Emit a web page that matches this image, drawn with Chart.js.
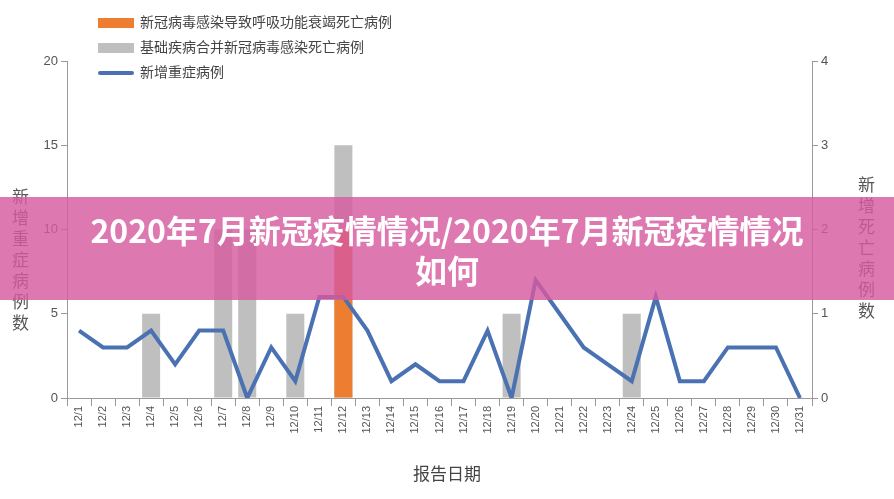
<!DOCTYPE html>
<html><head><meta charset="utf-8">
<script src="https://cdn.jsdelivr.net/npm/chart.js@4"></script>
<style>
body{margin:0;background:#fff;font-family:"Noto Sans CJK SC",sans-serif}
#wrap{position:relative;width:894px;height:499px}
.vt{position:absolute;writing-mode:vertical-rl;text-orientation:upright;font-size:17px;color:#555;letter-spacing:4px}
#leg{position:absolute;left:98px;top:9px;font-size:14px;color:#444;line-height:25px}
#leg span{display:inline-block;width:36px;margin-right:6px;vertical-align:middle}
#banner{position:absolute;left:0;top:197px;width:894px;height:103px;background:rgba(214,90,160,0.82);color:#fff;font-weight:bold;font-size:32px;text-align:center;line-height:40px;padding-top:12px;box-sizing:border-box}
</style></head><body>
<div id="wrap">
<canvas id="graf" width="894" height="499"></canvas>
<div id="leg">
<div><span style="height:10px;background:#ED7D31"></span>新冠病毒感染导致呼吸功能衰竭死亡病例</div>
<div><span style="height:10px;background:#BFBFBF"></span>基础疾病合并新冠病毒感染死亡病例</div>
<div><span style="height:4px;background:#4A72B2;border-radius:2px"></span>新增重症病例</div>
</div>
<div class="vt" style="left:8px;top:188px">新增重症病例数</div>
<div class="vt" style="left:854px;top:176px">新增死亡病例数</div>
<div style="position:absolute;left:0;width:894px;top:460px;text-align:center;font-size:17px;color:#444">报告日期</div>
<div id="banner">2020年7月新冠疫情情况/2020年7月新冠疫情情况<br>如何</div>
</div>
<script>
//日期
var dias = [];
for (var i = 1; i <= 31; i++) dias.push('12/' + i);
//死亡病例 (右轴)
var mortesResp = [0,0,0,0,0,0,0,0,0,0,0,2,0,0,0,0,0,0,0,0,0,0,0,0,0,0,0,0,0,0,0];
var mortesBase = [0,0,0,1,0,0,2,2,0,1,0,3,0,0,0,0,0,0,1,0,0,0,0,1,0,0,0,0,0,0,0];
//新增重症 (左轴)
var graves = [4,3,3,4,2,4,4,0,3,1,6,6,4,1,2,1,1,4,0,7,5,3,2,1,6,1,1,3,3,3,0];

var ctx = document.getElementById("graf");
new Chart(ctx, {
  data: {
    labels: dias,
    datasets: [
      { type: 'line', data: graves, yAxisID: 'y', borderColor: '#4A72B2', borderWidth: 4, pointRadius: 0, tension: 0, order: 0 },
      { type: 'bar', data: mortesResp, yAxisID: 'y1', backgroundColor: '#ED7D31', order: 1 },
      { type: 'bar', data: mortesBase, yAxisID: 'y1', backgroundColor: '#BFBFBF', order: 2 }
    ]
  },
  options: {
    responsive: false, animation: false,
    layout: { padding: { top: 61, bottom: 48, left: 0, right: 0 } },
    datasets: { bar: { grouped: false, barPercentage: 0.75, categoryPercentage: 1 } },
    plugins: { legend: { display: false }, tooltip: { enabled: false } },
    scales: {
      x: {
        offset: true,
        grid: { offset: true, drawOnChartArea: false, color: '#999', tickLength: 8 },
        border: { color: '#999' },
        ticks: { minRotation: 90, maxRotation: 90, color: '#555', font: { size: 11 }, autoSkip: false, padding: 0 },
        afterFit: function(s){ s.height = 53; }
      },
      y: {
        position: 'left', min: 0, max: 20,
        ticks: { stepSize: 5, color: '#555', font: { size: 13 } },
        grid: { drawOnChartArea: false, color: '#999', tickLength: 6 },
        border: { color: '#999' },
        afterFit: function(s){ s.width = 67; }
      },
      y1: {
        position: 'right', min: 0, max: 4,
        ticks: { stepSize: 1, color: '#555', font: { size: 13 } },
        grid: { drawOnChartArea: false, color: '#999', tickLength: 6 },
        border: { color: '#999' },
        afterFit: function(s){ s.width = 82; }
      }
    }
  }
});
</script>
</body></html>
